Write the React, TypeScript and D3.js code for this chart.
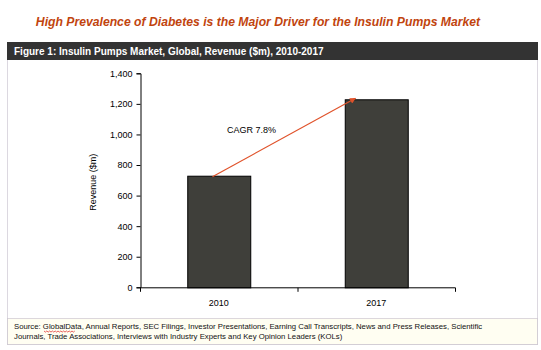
import { useRef, useEffect } from 'react';
import * as d3 from 'd3';

var YEARS = ['2010', '2017'];
var REVENUE = [730, 1230];
var Y_TICKS = [0, 200, 400, 600, 800, 1000, 1200, 1400];
var TITLE = 'High Prevalence of Diabetes is the Major Driver for the Insulin Pumps Market';
var FIGURE = 'Figure 1:  Insulin Pumps Market, Global, Revenue ($m), 2010-2017';
var CAGR_LABEL = 'CAGR 7.8%';
var SOURCE = [
  'Source:  GlobalData, Annual Reports, SEC Filings, Investor Presentations, Earning Call Transcripts, News and Press Releases, Scientific',
  'Journals, Trade Associations, Interviews with Industry Experts and Key Opinion Leaders (KOLs)'
];

export default function App() {
  var svgRef = useRef<SVGSVGElement>(null);

  useEffect(function () {
    var svg = d3.select(svgRef.current);
    svg.selectAll('*').remove();
    var W = 541, H = 350;
    var font = 'Arial, "Liberation Sans", sans-serif';

    svg.append('rect').attr('width', W).attr('height', H).attr('fill', '#fff');

    // Title
    svg.append('text')
      .attr('x', 258).attr('y', 26)
      .attr('text-anchor', 'middle')
      .attr('font-family', font).attr('font-size', '12.2px')
      .attr('font-style', 'italic').attr('font-weight', 'bold')
      .attr('fill', '#C1440E')
      .text(TITLE);

    // Frame
    svg.append('rect')
      .attr('x', 7.5).attr('y', 42.5).attr('width', 530).attr('height', 302)
      .attr('fill', '#fff').attr('stroke', '#b8b0c0').attr('stroke-dasharray', '1,1');
    svg.append('rect')
      .attr('x', 7.5).attr('y', 318.5).attr('width', 530).attr('height', 26)
      .attr('fill', '#FFFEF2').attr('stroke', '#b8b0c0').attr('stroke-dasharray', '1,1');
    svg.append('rect')
      .attr('x', 7).attr('y', 42).attr('width', 531).attr('height', 18)
      .attr('fill', '#333333');
    svg.append('text')
      .attr('x', 14).attr('y', 55)
      .attr('font-family', font).attr('font-size', '10px').attr('font-weight', 'bold')
      .attr('fill', '#fff')
      .text(FIGURE);

    // Chart
    var x0 = 140, x1 = 455, yTop = 73.3, yBot = 287.3;
    var x = d3.scaleBand().domain(YEARS).range([x0, x1]).paddingInner(0.6).paddingOuter(0.3);
    var y = d3.scaleLinear().domain([0, 1400]).range([yBot, yTop]);

    var bars = svg.append('g');
    YEARS.forEach(function (yr, i) {
      bars.append('rect')
        .attr('x', (x(yr) as number) + 0.5)
        .attr('y', y(REVENUE[i]) + 0.5)
        .attr('width', x.bandwidth())
        .attr('height', yBot - y(REVENUE[i]))
        .attr('fill', '#3f3f3a')
        .attr('stroke', '#000').attr('stroke-width', 1);
    });

    var yAxis = svg.append('g')
      .attr('transform', 'translate(' + (x0 + 0.5) + ',0)')
      .call(d3.axisLeft(y).tickValues(Y_TICKS).tickSize(4).tickPadding(4).tickFormat(d3.format(',')));
    yAxis.select('.domain').attr('stroke', '#000');
    yAxis.selectAll('line').attr('stroke', '#000');
    yAxis.selectAll('text').attr('font-family', font).attr('font-size', '9px').attr('fill', '#000');

    var xOuter = d3.scaleBand().domain(YEARS).range([x0, x1]);
    var xAxis = svg.append('g')
      .attr('transform', 'translate(0,' + (yBot + 0.5) + ')');
    xAxis.append('line').attr('x1', x0).attr('x2', x1 + 0.5).attr('stroke', '#000');
    [x0, (xOuter('2017') as number), x1].forEach(function (t) {
      xAxis.append('line').attr('x1', t + 0.5).attr('x2', t + 0.5).attr('y1', 0).attr('y2', 4).attr('stroke', '#000');
    });
    YEARS.forEach(function (yr) {
      xAxis.append('text')
        .attr('x', (xOuter(yr) as number) + xOuter.bandwidth() / 2)
        .attr('y', 18)
        .attr('text-anchor', 'middle')
        .attr('font-family', font).attr('font-size', '9px')
        .text(yr);
    });

    svg.append('text')
      .attr('transform', 'translate(96,' + ((yTop + yBot) / 2 + 2) + ') rotate(-90)')
      .attr('text-anchor', 'middle')
      .attr('font-family', font).attr('font-size', '9px')
      .text('Revenue ($m)');

    // CAGR arrow
    svg.append('defs').append('marker')
      .attr('id', 'arr').attr('viewBox', '0 0 10 10').attr('refX', 9).attr('refY', 5)
      .attr('markerWidth', 6).attr('markerHeight', 5).attr('orient', 'auto')
      .append('path').attr('d', 'M0,0L10,5L0,10z').attr('fill', '#E0522A');
    var c0 = (x('2010') as number) + x.bandwidth() * 0.4;
    var c1 = (x('2017') as number) + x.bandwidth() * 0.17;
    svg.append('line')
      .attr('x1', c0).attr('y1', y(REVENUE[0]) + 1)
      .attr('x2', c1).attr('y2', y(REVENUE[1]) - 1)
      .attr('stroke', '#E0522A').attr('stroke-width', 1.2)
      .attr('marker-end', 'url(#arr)');
    svg.append('text')
      .attr('x', 227).attr('y', 133)
      .attr('font-family', font).attr('font-size', '9px')
      .text(CAGR_LABEL);

    // Source
    SOURCE.forEach(function (line, i) {
      svg.append('text')
        .attr('x', 14).attr('y', 329 + i * 10)
        .attr('font-family', font).attr('font-size', '7.75px')
        .attr('fill', '#111')
        .text(line);
    });
    var sq = 'M44,331';
    for (var k = 0; k < 22; k++) sq += 'l1.4,' + (k % 2 ? -1.1 : 1.1);
    svg.append('path').attr('d', sq).attr('stroke', '#e02020').attr('stroke-width', 0.7).attr('fill', 'none');
  }, []);

  return (
    <svg ref={svgRef} width={541} height={350}
      style={{ position: 'absolute', left: 0, top: 0 }} />
  );
}
